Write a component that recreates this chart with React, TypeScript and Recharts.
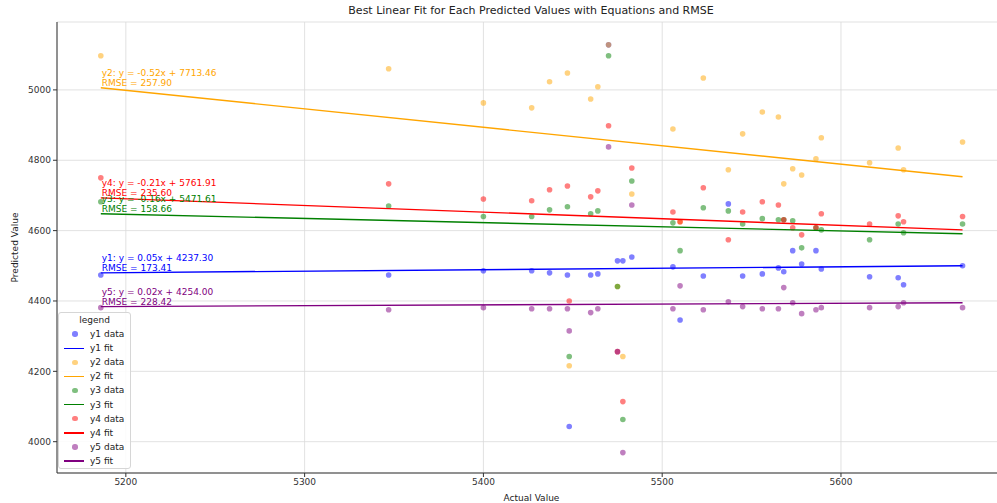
import React from "react";
import {
  CartesianGrid,
  ReferenceDot,
  Scatter,
  ScatterChart,
  XAxis,
  YAxis,
} from "recharts";

const actualValues = [5186, 5347, 5400, 5427, 5437, 5447, 5448, 5460, 5464, 5470, 5475, 5478, 5483, 5506, 5510, 5523, 5537, 5545, 5556, 5565, 5568, 5573, 5578, 5586, 5589, 5616, 5632, 5635, 5668];
const y1Values = [4474, 4474, 4486, 4486, 4480, 4474, 4043, 4474, 4477, 5128, 4514, 4514, 4525, 4497, 4346, 4471, 4676, 4471, 4477, 4494, 4483, 4543, 4505, 4543, 4491, 4469, 4466, 4446, 4500];
const y2Values = [5097, 5060, 4963, 4949, 5023, 5048, 4216, 4974, 5009, 5128, 4441, 4242, 4704, 4889, 4625, 5034, 4773, 4875, 4937, 4923, 4733, 4776, 4758, 4804, 4864, 4793, 4835, 4773, 4852];
const y3Values = [4682, 4670, 4640, 4640, 4659, 4668, 4242, 4648, 4656, 5097, 4441, 4063, 4741, 4622, 4543, 4665, 4656, 4619, 4634, 4631, 4631, 4628, 4551, 4608, 4602, 4574, 4619, 4594, 4619];
const y4Values = [4750, 4733, 4690, 4685, 4716, 4727, 4400, 4696, 4713, 4898, 4256, 4114, 4778, 4653, 4625, 4722, 4574, 4653, 4682, 4673, 4631, 4608, 4588, 4608, 4648, 4619, 4642, 4625, 4640];
const y5Values = [4381, 4375, 4381, 4378, 4378, 4378, 4315, 4367, 4378, 4838, 4256, 3969, 4673, 4378, 4443, 4375, 4398, 4384, 4378, 4378, 4438, 4395, 4364, 4375, 4381, 4381, 4384, 4395, 4381];

// fitted lines, read at the first and last actual value
const fitX = [5186, 5668];
const fit1 = [4480, 4500];
const fit2 = [5006, 4753];
const fit3 = [4648, 4591];
const fit4 = [4693, 4602];
const fit5 = [4384, 4395];

const equations = [
  "y1: y = 0.05x + 4237.30",
  "y2: y = -0.52x + 7713.46",
  "y3: y = -0.16x + 5471.61",
  "y4: y = -0.21x + 5761.91",
  "y5: y = 0.02x + 4254.00",
];
const rmseLabels = ["RMSE = 173.41", "RMSE = 257.90", "RMSE = 158.66", "RMSE = 235.60", "RMSE = 228.42"];

const xTicks = [5200, 5300, 5400, 5500, 5600];
const yTicks = [4000, 4200, 4400, 4600, 4800, 5000];

const COLORS = ["#0000ff", "#ffa500", "#008000", "#ff0000", "#800080"];
const FONT = "'DejaVu Sans', sans-serif";
const TICK = { fontSize: 9, fill: "#333", fontFamily: FONT };

const seriesValues = [y1Values, y2Values, y3Values, y4Values, y5Values];
const fits = [fit1, fit2, fit3, fit4, fit5];

const pts = (ys: number[]) => actualValues.map((x, i) => ({ x, y: ys[i] }));
const fitPts = (ys: number[]) => fitX.map((x, i) => ({ x, y: ys[i] }));

const Dot = (color: string) => (p: any) =>
  <circle cx={p.cx} cy={p.cy} r={2.8} fill={color} fillOpacity={0.5} />;

function LegendBox() {
  const rows: { label: string; kind: "dot" | "line"; color: string }[] = [];
  COLORS.forEach((c, i) => {
    rows.push({ label: `y${i + 1} data`, kind: "dot", color: c });
    rows.push({ label: `y${i + 1} fit`, kind: "line", color: c });
  });
  return (
    <div
      style={{
        position: "absolute",
        left: 58,
        top: 312,
        width: 73,
        height: 157,
        background: "rgba(255,255,255,0.85)",
        border: "1px solid #d6d6d6",
        borderRadius: 3,
        fontFamily: FONT,
        fontSize: 9,
        color: "#222",
        boxSizing: "border-box",
      }}
    >
      <div style={{ height: 14.1, lineHeight: "14.1px", textAlign: "center" }}>legend</div>
      {rows.map((r) => (
        <div key={r.label} style={{ height: 14.1, lineHeight: "14.1px", position: "relative" }}>
          {r.kind === "dot" ? (
            <span
              style={{
                position: "absolute",
                left: 13,
                top: 4.3,
                width: 5.5,
                height: 5.5,
                borderRadius: "50%",
                background: r.color,
                opacity: 0.5,
              }}
            />
          ) : (
            <span
              style={{
                position: "absolute",
                left: 5,
                top: 6.5,
                width: 20,
                height: 1.4,
                background: r.color,
              }}
            />
          )}
          <span style={{ position: "absolute", left: 31 }}>{r.label}</span>
        </div>
      ))}
    </div>
  );
}

export default function App() {
  return (
    <div style={{ position: "relative", width: 997, height: 503, overflow: "hidden", background: "#fff" }}>
      <style>{`body{margin:0;overflow:hidden}`}</style>
      <div
        style={{
          position: "absolute",
          left: 0,
          top: 4,
          width: 1062,
          textAlign: "center",
          fontFamily: FONT,
          fontSize: 11,
          color: "#222",
        }}
      >
        Best Linear Fit for Each Predicted Values with Equations and RMSE
      </div>
      <ScatterChart width={1020} height={503} margin={{ top: 22, right: 14, bottom: 0, left: 0 }}>
        <CartesianGrid stroke="#d9d9d9" strokeWidth={0.8} />
        <XAxis
          type="number"
          dataKey="x"
          domain={[5161.5, 5692.3]}
          allowDataOverflow
          ticks={xTicks}
          interval={0}
          height={30}
          tick={TICK}
          tickSize={4}
          tickLine={{ stroke: "#333" }}
          axisLine={{ stroke: "#333" }}
          label={{
            value: "Actual Value",
            position: "insideBottom",
            offset: 2,
            style: { fontSize: 9, fill: "#222", fontFamily: FONT },
          }}
        />
        <XAxis
          xAxisId="top"
          orientation="top"
          type="number"
          dataKey="x"
          domain={[5161.5, 5692.3]}
          allowDataOverflow
          tick={false}
          tickLine={false}
          height={0}
          axisLine={{ stroke: "#333" }}
        />
        <YAxis
          type="number"
          dataKey="y"
          domain={[3911, 5193]}
          allowDataOverflow
          ticks={yTicks}
          interval={0}
          width={57}
          tick={TICK}
          tickSize={4}
          tickLine={{ stroke: "#333" }}
          axisLine={{ stroke: "#333" }}
          label={{
            value: "Predicted Value",
            angle: -90,
            position: "insideLeft",
            offset: 15,
            style: { fontSize: 9, fill: "#222", fontFamily: FONT, textAnchor: "middle" },
          }}
        />
        {seriesValues.map((ys, i) => (
          <Scatter
            key={`d${i}`}
            name={`y${i + 1} data`}
            data={pts(ys)}
            shape={Dot(COLORS[i])}
            isAnimationActive={false}
          />
        ))}
        {fits.map((ys, i) => (
          <Scatter
            key={`f${i}`}
            name={`y${i + 1} fit`}
            data={fitPts(ys)}
            line={{ stroke: COLORS[i], strokeWidth: 1.4 }}
            shape={() => <g />}
            isAnimationActive={false}
          />
        ))}
        {fits.map((ys, i) => (
          <ReferenceDot
            key={`t${i}`}
            x={fitX[0]}
            y={ys[0]}
            r={0}
            shape={(p: any) => (
              <g fontFamily={FONT} fontSize={9} fill={COLORS[i]}>
                <text x={p.cx + 1} y={p.cy - 12}>{equations[i]}</text>
                <text x={p.cx + 1} y={p.cy - 2}>{rmseLabels[i]}</text>
              </g>
            )}
          />
        ))}
      </ScatterChart>
      <LegendBox />
    </div>
  );
}
